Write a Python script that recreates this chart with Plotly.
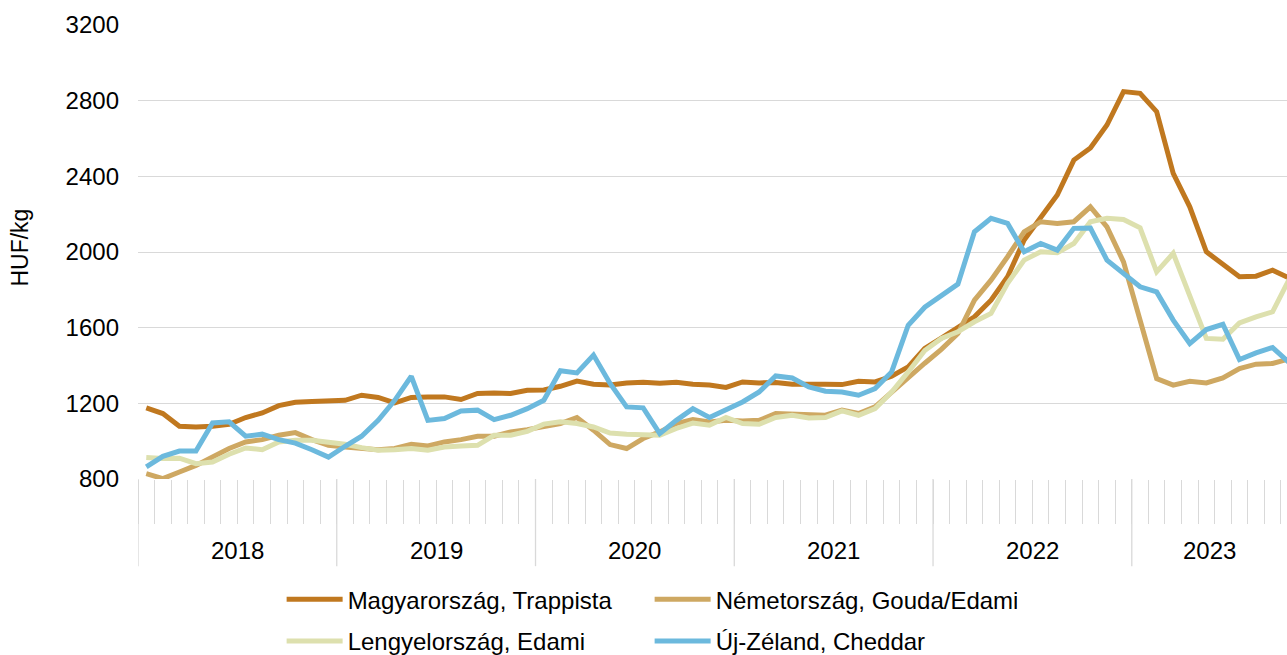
import plotly.graph_objects as go

# ---------------- data (HUF/kg, monthly, Jan 2018 ->) ----------------
years = ["2018", "2019", "2020", "2021", "2022", "2023"]

hu_trappista = [1176, 1146, 1079, 1075, 1079, 1089, 1125, 1149, 1188, 1206,
                1210, 1213, 1216, 1243, 1231, 1202, 1231, 1234, 1234, 1220,
                1252, 1255, 1252, 1269, 1271, 1290, 1318, 1301, 1297, 1308,
                1312, 1306, 1312, 1301, 1297, 1284, 1313, 1308, 1310, 1301,
                1304, 1301, 1299, 1317, 1313, 1343, 1393, 1490, 1545, 1604,
                1657, 1745, 1869, 2063, 2186, 2301, 2486, 2550, 2671, 2848,
                2839, 2742, 2416, 2239, 2001, 1931, 1869, 1872, 1904, 1863]

de_gouda = [828, 802, 837, 872, 916, 961, 996, 1008, 1031, 1045,
            1008, 978, 969, 961, 955, 961, 984, 975, 996, 1008,
            1026, 1026, 1049, 1061, 1080, 1093, 1125, 1058, 982, 961,
            1014, 1049, 1093, 1114, 1102, 1110, 1106, 1110, 1146, 1142,
            1137, 1137, 1164, 1146, 1181, 1260, 1331, 1412, 1485, 1569,
            1745, 1851, 1975, 2107, 2160, 2151, 2160, 2239, 2133, 1948,
            1640, 1331, 1296, 1317, 1308, 1334, 1384, 1407, 1411, 1435]

pl_edami = [913, 908, 910, 881, 890, 931, 964, 955, 996, 1005,
            1005, 996, 984, 966, 952, 955, 961, 952, 969, 975,
            978, 1031, 1031, 1052, 1090, 1102, 1093, 1075, 1043, 1037,
            1037, 1031, 1067, 1096, 1084, 1125, 1093, 1089, 1125, 1137,
            1123, 1125, 1160, 1137, 1172, 1260, 1366, 1479, 1543, 1578,
            1631, 1675, 1834, 1957, 2001, 1996, 2045, 2160, 2178, 2172,
            2128, 1895, 1993, 1763, 1543, 1539, 1625, 1657, 1684, 1855]

nz_cheddar = [864, 920, 948, 948, 1096, 1102, 1026, 1037, 1008, 990,
              955, 916, 973, 1026, 1110, 1216, 1343, 1110, 1120, 1160,
              1164, 1114, 1137, 1172, 1216, 1372, 1361, 1455, 1305, 1181,
              1176, 1040, 1110, 1172, 1125, 1164, 1207, 1260, 1345, 1334,
              1287, 1264, 1260, 1243, 1278, 1366, 1613, 1708, 1772, 1830,
              2107, 2178, 2151, 2001, 2045, 2010, 2125, 2127, 1957, 1890,
              1816, 1789, 1640, 1516, 1590, 1618, 1432, 1467, 1495, 1416]

series_names = ["Magyarország, Trappista", "Németország, Gouda/Edami",
                "Lengyelország, Edami", "Új-Zéland, Cheddar"]
series_values = [hu_trappista, de_gouda, pl_edami, nz_cheddar]
series_colors = ["#C0781F", "#CEA862", "#DDE0AE", "#6CB9DD"]
series_legend = ["legend", "legend", "legend2", "legend2"]

y_ticks = [800, 1200, 1600, 2000, 2400, 2800, 3200]

# ---------------- figure ----------------
FONT = "Arial, 'Liberation Sans', sans-serif"
GRID = "#D9D9D9"
n = len(hu_trappista)
x_idx = list(range(n))
x_max = 68.87  # visible right edge (chart is cut at the right)

fig = go.Figure()
for name, vals, col, lg in zip(series_names, series_values, series_colors, series_legend):
    fig.add_trace(go.Scatter(
        x=x_idx, y=vals, mode="lines", name=name,
        line=dict(color=col, width=5),
        legend=lg, hoverinfo="skip",
    ))

year_bounds = [i * 12 - 0.5 for i in range(len(years))]
month_bounds = [k - 0.5 for k in range(n + 1)]

annotations = []
for i, yr in enumerate(years):
    lo = i * 12 - 0.5
    hi = min(lo + 12, x_max)
    annotations.append(dict(
        x=(lo + hi) / 2, y=-0.158, xref="x", yref="paper",
        text=yr, showarrow=False, xanchor="center", yanchor="middle",
        font=dict(family=FONT, size=24, color="#000000"),
    ))
annotations.append(dict(
    x=-0.103, y=0.509, xref="paper", yref="paper", text="HUF/kg",
    textangle=-90, showarrow=False, xanchor="center", yanchor="middle",
    font=dict(family=FONT, size=23, color="#000000"),
))

# year separators below the axis
shapes = [dict(type="line", xref="x", yref="paper", x0=b, x1=b, y0=0, y1=-0.192,
               line=dict(color=GRID, width=1.3), layer="below")
          for b in year_bounds]

fig.update_layout(
    width=1287, height=655,
    margin=dict(l=138, r=0, t=25, b=176, autoexpand=False),
    paper_bgcolor="white", plot_bgcolor="white",
    font=dict(family=FONT, size=24, color="#000000"),
    showlegend=True,
    annotations=annotations,
    shapes=shapes,
    xaxis=dict(
        range=[-0.5, x_max], automargin=False,
        tickmode="array", tickvals=month_bounds, ticktext=["" for _ in month_bounds],
        ticks="outside", ticklen=44, tickwidth=1.3, tickcolor=GRID,
        showgrid=False, zeroline=False, showline=False,
    ),
    yaxis=dict(
        range=[800, 3200], automargin=False,
        tickmode="array", tickvals=y_ticks, ticktext=[str(v) for v in y_ticks],
        showgrid=True, gridcolor=GRID, gridwidth=1.3,
        zeroline=False, showline=False,
        ticks="", ticklabelstandoff=18,
        tickfont=dict(family=FONT, size=24, color="#000000"),
    ),
    legend=dict(
        orientation="h", x=0.125, y=-0.2656, xanchor="left", yanchor="middle",
        xref="paper", yref="paper",
        itemwidth=56, entrywidth=297, entrywidthmode="pixels",
        font=dict(family=FONT, size=24, color="#000000"),
        bgcolor="rgba(0,0,0,0)", borderwidth=0, tracegroupgap=0,
    ),
    legend2=dict(
        orientation="h", x=0.125, y=-0.3576, xanchor="left", yanchor="middle",
        xref="paper", yref="paper",
        itemwidth=56, entrywidth=297, entrywidthmode="pixels",
        font=dict(family=FONT, size=24, color="#000000"),
        bgcolor="rgba(0,0,0,0)", borderwidth=0, tracegroupgap=0,
    ),
)

fig.write_html(
    "out.html",
    config={"displayModeBar": False},
    post_script="document.body.style.margin='0';document.body.style.overflow='hidden';",
)
